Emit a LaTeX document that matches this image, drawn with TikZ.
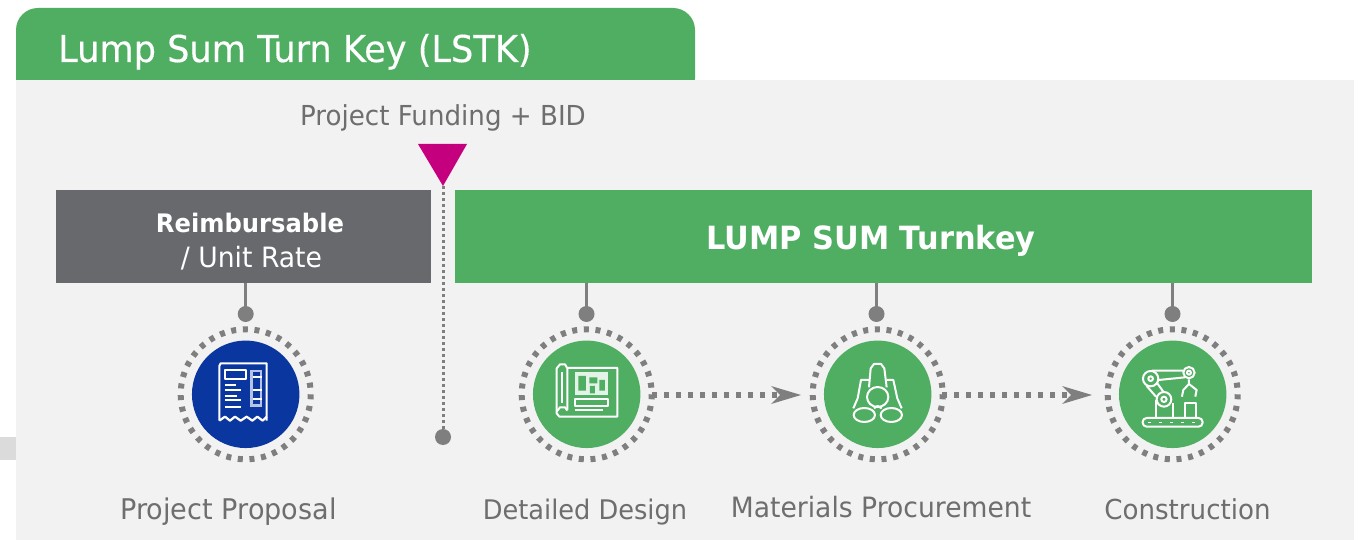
\documentclass[tikz,border=0pt]{standalone}
\usepackage{fontspec}
\setmainfont{DejaVu Sans}[FakeStretch=0.95]
\usetikzlibrary{arrows.meta}
\definecolor{lsgreen}{HTML}{4FAE62}
\definecolor{lsgray}{HTML}{67696D}
\definecolor{lsblue}{HTML}{0A36A0}
\definecolor{lsmag}{HTML}{C4007F}
\definecolor{lspanel}{HTML}{F2F2F2}
\definecolor{lsdot}{HTML}{7F7F7F}
\definecolor{lstext}{HTML}{6E6E70}
\tikzset{
 x=1pt,y=-1pt,
 label text/.style={text=lstext,inner sep=0pt,anchor=base},
 white text/.style={text=white,inner sep=0pt,anchor=base},
 disc/.style={circle,minimum size=107.5pt,inner sep=0pt},
 ring/.style={draw=lsdot,line width=6pt,dash pattern=on 5pt off 6.67pt},
 pin/.style={circle,fill=lsdot,minimum size=16pt,inner sep=0pt},
 stem/.style={draw=lsdot,line width=3pt},
 flow/.style={draw=lsdot,line width=6pt,dash pattern=on 5pt off 7pt},
 flowhead/.style={fill=lsdot,draw=none},
 bar/.style={inner sep=0pt,anchor=north west},
 icon/.style={draw=white,line width=2pt,line join=round,fill=none},
 iconthin/.style={draw=white,line width=1.5pt},
}
\newcommand{\lsfont}[1]{\fontsize{#1}{#1}\selectfont}
\newcommand{\lsheavy}{\addfontfeature{FakeBold=0.35}}
\begin{document}
\begin{tikzpicture}
\useasboundingbox (0,0) rectangle (1366,540);
\fill[white] (0,0) rectangle (1366,540);
\fill[gray!28] (0,437) rectangle (16,460);
\fill[lspanel] (16,80) rectangle (1354,540);
\fill[lsgreen,rounded corners=22pt] (16,100) -- (16,8) -- (695,8) -- (695,100) -- cycle;
\fill[lspanel] (16,80) rectangle (695,102);
\node[white text,font=\lsfont{37}\lsheavy,anchor=base west] (title) at (58,62) {Lump Sum Turn Key (LSTK)};
\node[label text,font=\lsfont{27.5}] (fund) at (443,126) {Project Funding + BID};
\node[bar,fill=lsgray,minimum width=375pt,minimum height=93pt] (reimb) at (56,190) {};
\node[bar,fill=lsgreen,minimum width=857pt,minimum height=93pt] (lump) at (455,190) {};
\node[white text,font=\lsfont{25.5}\bfseries] (reimbA) at (250,233) {Reimbursable};
\node[white text,font=\lsfont{28}] (reimbB) at (251.5,268) {/ Unit Rate};
\node[white text,font=\lsfont{32}\bfseries] (lumpT) at (871,250) {LUMP SUM Turnkey};
% vertical divider
\node[pin] (endpin) at (443,437) {};
\coordinate (divtop) at (443,180);
\draw[draw=lsdot,line width=3pt,dash pattern=on 3pt off 3pt] (divtop) -- (endpin.center);
\fill[lsmag] (418,144) -- (467,144) -- (443,186) -- cycle;
% pins
\foreach \n/\x/\px in {a/245.7/245.7,b/586.7/586.5,c/877.7/876.5,d/1172.7/1172.5}{
  \node[pin] (pin\n) at (\px,314) {};
  \coordinate (top\n) at (\px,283);
  \draw[stem] (top\n) -- (pin\n.center);
  \draw[ring] (\x,394.3) circle[radius=65];
}
\node[disc,fill=lsblue] (propo) at (245.7,394.3) {};
\node[disc,fill=lsgreen] (design) at (586.7,394.3) {};
\node[disc,fill=lsgreen] (mater) at (877.7,394.3) {};
\node[disc,fill=lsgreen] (constr) at (1172.7,394.3) {};
% flows
\coordinate (f1a) at (652,394.5); \coordinate (f1b) at (785,394.5);
\coordinate (f2a) at (942,394.5); \coordinate (f2b) at (1077,394.5);
\draw[flow] (f1a) -- (f1b);
\draw[flow] (f2a) -- (f2b);
\fill[flowhead] (771,386) -- (801,395) -- (771,404) -- (780,395) -- cycle;
\fill[flowhead] (1062,386) -- (1092,395) -- (1062,404) -- (1071,395) -- cycle;
% receipt icon
\begin{scope}[shift={(170,300)},x=0.3333pt,y=-0.3333pt]
 \draw[icon] (148,362) -- (148,198) -- (152,190) -- (290,190) -- (290,362);
 \draw[icon,line width=2.2pt] (148,362) -- (165,350) -- (180,362) -- (195,350) -- (212,362) -- (230,350) -- (247,362) -- (262,350) -- (278,362) -- (290,350);
 \draw[icon] (165,209) rectangle (229,238);
 \fill[white!70!lsblue] (239,210) rectangle (276,320);
 \fill[lsblue] (250,217) rectangle (270,313);
 \draw[icon] (250,232) -- (276,232) (250,270) -- (276,270) (250,296) -- (276,296);
 \draw[icon] (165,254) -- (198,254) (165,270) -- (213,270) (165,287) -- (200,287) (165,300) -- (213,300) (165,320) -- (213,320);
\end{scope}
% blueprint icon
\begin{scope}[shift={(510,300)},x=0.3333pt,y=-0.3333pt]
 \draw[icon] (170,204) -- (322,204) -- (322,350) -- (148,350) -- (140,340) -- (140,205) -- (150,193) -- (165,193) -- (172,205) -- (172,330);
 \draw[icon] (140,335) -- (150,322) -- (165,322) -- (172,332);
 \draw[icon] (157,215) -- (157,310);
 \fill[white!85!lsgreen] (195,215) rectangle (295,285);
 \fill[lsgreen] (205,228) rectangle (228,272) (238,232) rectangle (262,250) (240,258) rectangle (255,280) (268,240) rectangle (285,272);
 \draw[icon] (196,296) rectangle (294,318);
 \draw[icon] (196,330) -- (280,330);
\end{scope}
% binoculars icon
\begin{scope}[shift={(800,300)},x=0.3333pt,y=-0.3333pt]
 \draw[icon] (207,262) -- (212,205) -- (222,192) -- (243,192) -- (253,205) -- (260,262);
 \draw[icon] (207,240) -- (183,240) -- (173,295) -- (160,325);
 \draw[icon] (260,240) -- (280,240) -- (292,295) -- (305,325);
 \draw[icon] (233,291) circle[x radius=32,y radius=30];
 \draw[icon] (193,345) circle[x radius=32,y radius=21];
 \draw[icon] (274,345) circle[x radius=32,y radius=21];
 \draw[icon] (222,325) -- (233,318) -- (245,325);
\end{scope}
% robot icon
\begin{scope}[shift={(800,300)},x=0.3333pt,y=-0.3333pt]
 \draw[icon] (1052,236) circle[radius=23];
 \draw[icon] (1052,236) circle[radius=7];
 \draw[icon] (1167,218) circle[radius=17];
 \draw[icon] (1167,218) circle[radius=6];
 \draw[icon] (1056,212) -- (1150,212) (1076,240) -- (1155,232);
 \draw[icon] (1040,258) -- (1068,290) (1072,250) -- (1090,275);
 \draw[icon] (1092,298) circle[radius=22];
 \draw[icon] (1092,298) circle[radius=8];
 \draw[icon] (1068,300) -- (1068,352) (1118,310) -- (1118,352);
 \draw[icon] (1167,238) -- (1167,252) -- (1150,270) -- (1146,290) (1167,252) -- (1190,270) -- (1186,290);
 \draw[icon] (1155,352) -- (1155,310) -- (1187,310) -- (1187,352);
 \draw[icon,rounded corners=4pt] (1028,354) rectangle (1208,380);
 \draw[iconthin,dash pattern=on 3pt off 8pt] (1045,367) -- (1195,367);
\end{scope}
% labels
\node[label text,font=\lsfont{28.5}] (lb1) at (228.5,519) {Project Proposal};
\node[label text,font=\lsfont{27}] (lb2) at (585,519) {Detailed Design};
\node[label text,font=\lsfont{28}] (lb3) at (881,517) {Materials Procurement};
\node[label text,font=\lsfont{27.5}] (lb4) at (1187.5,519) {Construction};
\end{tikzpicture}
\end{document}
